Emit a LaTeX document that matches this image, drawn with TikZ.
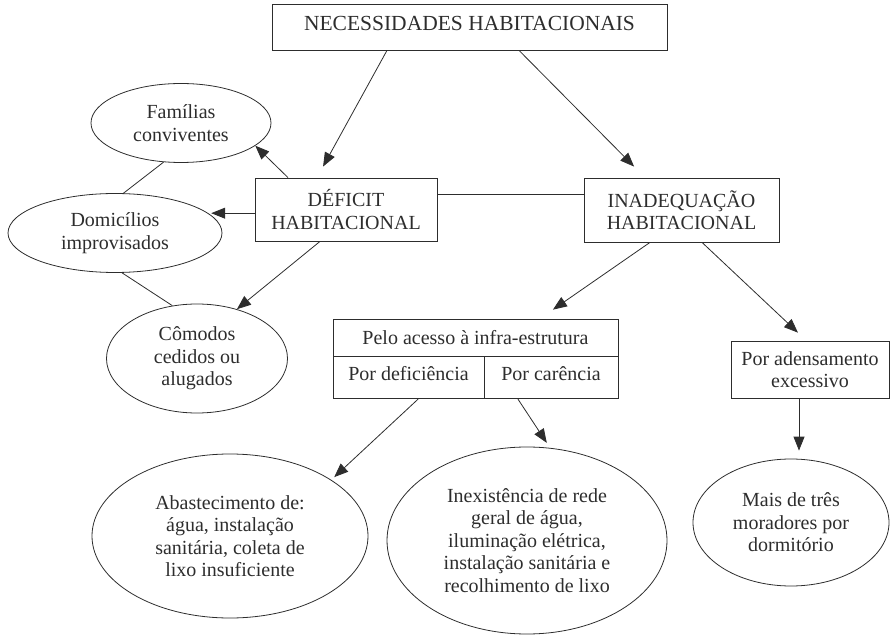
\documentclass[tikz,border=0pt]{standalone}
\usepackage{fontspec}
\setmainfont{Liberation Serif}
\usepackage{xcolor}
\definecolor{ink}{RGB}{45, 45, 45}
\usetikzlibrary{shapes.geometric,arrows.meta,positioning,calc}

\begin{document}
\begin{tikzpicture}[
  x=1pt, y=1pt,
  box/.style={draw=ink, rectangle, text=ink, font=\fontsize{20}{22.5}\selectfont, align=center, inner sep=0pt, line width=0.8pt},
  bubble/.style={draw=ink, ellipse, text=ink, font=\fontsize{20}{22.5}\selectfont, align=center, inner sep=0pt, line width=0.8pt},
  arrow/.style={-{Triangle[length=14pt,width=11pt]}, line width=0.8pt, color=ink},
  link/.style={line width=0.8pt, color=ink}
]
\useasboundingbox (0,0) rectangle (891,635);

\node[box, minimum width=395pt, text height=27pt, text depth=19pt, font=\fontsize{21.5}{24}\selectfont] (nec) at (469.5,608) {NECESSIDADES HABITACIONAIS};
\node[box, minimum width=182pt, minimum height=63pt] (deficit) at (346,425.5) {DÉFICIT\\HABITACIONAL};
\node[box, minimum width=195pt, minimum height=64pt] (inadeq) at (681.5,425) {INADEQUAÇÃO\\HABITACIONAL};

\node[bubble, minimum width=180pt, minimum height=79pt] (familias) at (181,512) {Famílias\\conviventes};
\node[bubble, minimum width=214pt, minimum height=79pt] (domicilios) at (115,402) {Domicílios\\improvisados};
\node[bubble, minimum width=181pt, minimum height=109pt] (comodos) at (197,276.5) {Cômodos\\cedidos ou\\alugados};

\node[box, minimum width=285pt, minimum height=37pt] (acesso) at (475.5,297.5) {Pelo acesso à infra-estrutura};
\node[box, minimum width=151pt, text height=24pt, text depth=18pt, below right=0pt and 0pt of acesso.south west] (deficiencia) {Por deficiência};
\node[box, minimum width=134pt, text height=24pt, text depth=18pt, below left=0pt and 0pt of acesso.south east] (carencia) {Por carência};

\node[box, minimum width=158pt, minimum height=57pt] (adensamento) at (810,265.5) {Por adensamento\\excessivo};
\node[bubble, minimum width=196pt, minimum height=127pt] (moradores) at (791,112.5) {Mais de três\\moradores por\\dormitório};

\node[bubble, minimum width=276pt, minimum height=164pt] (abastec) at (230,99) {Abastecimento de:\\água, instalação\\sanitária, coleta de\\lixo insuficiente};
\node[bubble, minimum width=280pt, minimum height=187pt] (inexist) at (527,94.5) {Inexistência de rede\\geral de água,\\iluminação elétrica,\\instalação sanitária e\\recolhimento de lixo};

\draw[arrow, shorten >=12.6pt] ([xshift=-82.5pt]nec.south) -- ([xshift=-29pt]deficit.north);
\draw[arrow, shorten >=15.5pt] ([xshift=49.5pt]nec.south) -- ([xshift=-36.5pt]inadeq.north);
\draw[link] ([yshift=15.5pt]deficit.east) -- ([yshift=15.5pt]deficit.east -| inadeq.west);
\draw[arrow] ([xshift=-58pt]deficit.north) -- (familias.-17);
\draw[arrow, shorten >=3pt] (deficit.west |- domicilios.12) -- (domicilios.12);
\draw[arrow] ([xshift=-26pt]deficit.south) -- (comodos.51);
\draw[link] (familias.-114) -- (domicilios.78);
\draw[link] (domicilios.-80) -- (comodos.115);
\draw[arrow, shorten >=15.7pt] ([xshift=-31.5pt]inadeq.south) -- ([xshift=64.5pt]acesso.north);
\draw[arrow, shorten >=11.6pt] ([xshift=20.5pt]inadeq.south) -- ([xshift=-3.6pt]adensamento.north);
\draw[arrow, shorten >=8pt] ([xshift=-11pt]adensamento.south) -- ([xshift=-11pt]adensamento.south |- moradores.north);
\draw[arrow, shorten >=4pt] ([xshift=9.5pt]deficiencia.south) -- (abastec.29);
\draw[arrow, shorten >=6pt] ([xshift=-33pt]carencia.south) -- (inexist.76);
\end{tikzpicture}
\end{document}
